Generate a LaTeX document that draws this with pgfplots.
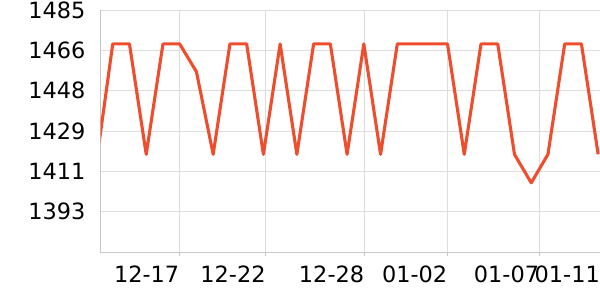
\documentclass[border=0pt]{standalone}
\usepackage{pgfplots}
\pgfplotsset{compat=1.18}
\usepackage{fontspec}
\setmainfont{DejaVu Sans}
\definecolor{lineC}{RGB}{238,77,46}
\definecolor{gridC}{RGB}{221,221,221}
\definecolor{axisC}{RGB}{200,200,200}
\begin{document}
\begin{tikzpicture}[x=1bp,y=1bp]
\useasboundingbox (0,0) rectangle (600,300);
\begin{axis}[
  at={(100.7bp,47.3bp)}, anchor=south west,
  scale only axis, width=499.3bp, height=242.7bp,
  xmin=0.281, xmax=30.11, ymin=1374.2, ymax=1485,
  axis x line*=bottom, axis y line*=left,
  axis line style={draw=axisC, line width=1bp},
  grid=major, grid style={draw=gridC, line width=0.8bp},
  tick align=outside,
  xtick={4.98,10.14,16.03,20.99,26.48,30.11},
  xticklabels={12-17,12-22,12-28,01-02,01-07,01-11},
  ytick={1393.0,1411.4,1429.8,1448.2,1466.6,1485},
  yticklabels={1393,1411,1429,1448,1466,1485},
  x tick style={draw=axisC, line width=0.8bp},
  y tick style={draw=none},
  major tick length=3bp,
  tick label style={font=\fontsize{22.5}{24}\selectfont, text=black},
  x tick label style={anchor=north east, inner xsep=0pt, inner ysep=0pt, yshift=-10bp},
  y tick label style={inner xsep=0pt, xshift=-12bp},
  clip=true,
]
\addplot[lineC, line width=3.1bp, line join=round, mark=none] table {
x y
0 1414.0
1 1469.5
2 1469.5
3 1419.1
4 1469.5
5 1469.5
6 1456.8
7 1419.1
8 1469.5
9 1469.5
10 1419.1
11 1469.5
12 1419.1
13 1469.5
14 1469.5
15 1419.1
16 1469.5
17 1419.1
18 1469.5
19 1469.5
20 1469.5
21 1469.5
22 1419.1
23 1469.5
24 1469.5
25 1419.1
26 1406.1
27 1419.1
28 1469.5
29 1469.5
30 1419.1
};
\end{axis}
\end{tikzpicture}
\end{document}
